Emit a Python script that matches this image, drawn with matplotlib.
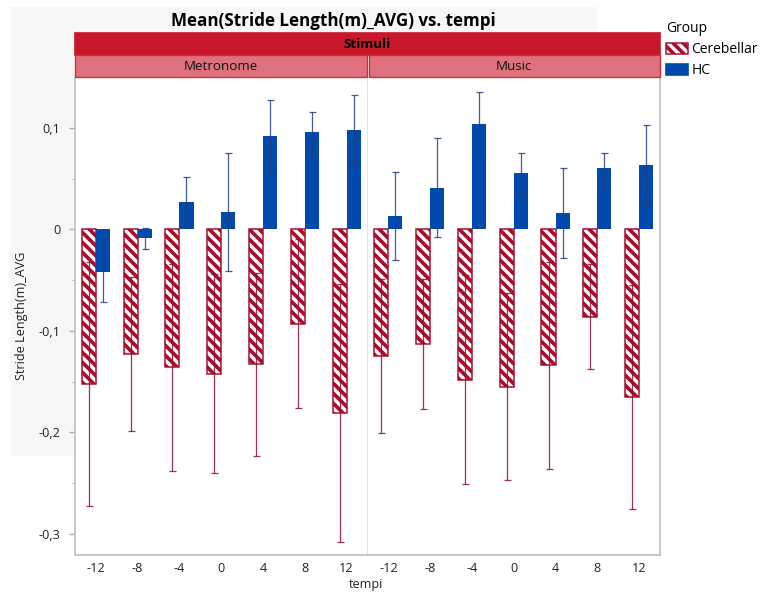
import numpy as np
import matplotlib
matplotlib.use("Agg")
import matplotlib.pyplot as plt
from matplotlib.patches import Rectangle, Patch

plt.rcParams['font.family'] = ['Open Sans', 'DejaVu Sans']
plt.rcParams['hatch.linewidth'] = 2.2

# mean stride length and error per tempo, split by stimulus and group
tempi = [-12, -8, -4, 0, 4, 8, 12]
metro_cereb = [-0.152, -0.123, -0.136, -0.142, -0.133, -0.093, -0.181]
metro_cereb_err = [0.120, 0.076, 0.102, 0.098, 0.090, 0.083, 0.127]
metro_hc = [-0.042, -0.009, 0.027, 0.017, 0.092, 0.096, 0.098]
metro_hc_err = [0.030, 0.010, 0.025, 0.058, 0.035, 0.020, 0.034]
music_cereb = [-0.125, -0.113, -0.148, -0.155, -0.134, -0.086, -0.165]
music_cereb_err = [0.076, 0.064, 0.103, 0.092, 0.102, 0.052, 0.110]
music_hc = [0.013, 0.041, 0.104, 0.055, 0.016, 0.060, 0.063]
music_hc_err = [0.043, 0.049, 0.031, 0.020, 0.044, 0.015, 0.040]

yticks = [-0.3, -0.2, -0.1, 0.0, 0.1]
ytick_labels = ['-0,3', '-0,2', '-0,1', '0', '0,1']

RED = '#a50e2d'
BLUE = '#004aad'
RED_ERR = '#8c1030'
BLUE_ERR = '#1f3f80'
FRAME = '#c4c4c4'
HATCH = '\\\\\\\\'

W, H = 765, 592
fig = plt.figure(figsize=(W / 120, H / 120), dpi=120)
fig.patch.set_facecolor('white')


def fx(px):
    return px / W


def fy(py):
    return 1 - py / H


# light gray backdrop behind the title and the y axis
fig.add_artist(Rectangle((fx(10), fy(456)), fx(597) - fx(10), fy(7) - fy(456),
                         transform=fig.transFigure, facecolor='#f7f7f7',
                         edgecolor='none', zorder=0))

left, right, top, bottom = 75, 660, 78, 555
mid = (left + right) / 2
ax1 = fig.add_axes([fx(left), fy(bottom), fx(mid) - fx(left), fy(top) - fy(bottom)])
ax2 = fig.add_axes([fx(mid), fy(bottom), fx(right) - fx(mid), fy(top) - fy(bottom)],
                   sharey=ax1)

x = np.arange(len(tempi))
bw = 0.336
panels = [(ax1, metro_cereb, metro_cereb_err, metro_hc, metro_hc_err),
          (ax2, music_cereb, music_cereb_err, music_hc, music_hc_err)]

for ax, cm, ce, hm, he in panels:
    ax.set_facecolor('white')
    ax.bar(x - bw / 2, cm, bw, facecolor='white', edgecolor=RED,
           hatch=HATCH, linewidth=0.9, zorder=2)
    ax.bar(x + bw / 2, hm, bw, color=BLUE, linewidth=0, zorder=2)
    ax.errorbar(x - bw / 2, cm, yerr=ce, fmt='none', ecolor=RED_ERR,
                elinewidth=0.75, capsize=2.1, capthick=0.75, alpha=0.85, zorder=3)
    ax.errorbar(x + bw / 2, hm, yerr=he, fmt='none', ecolor=BLUE_ERR,
                elinewidth=0.75, capsize=2.1, capthick=0.75, alpha=0.85, zorder=3)
    ax.set_xlim(-0.5, len(tempi) - 0.5)
    ax.set_xticks(x)
    ax.set_xticklabels([str(t) for t in tempi], fontsize=7.6, color='#222222')
    ax.tick_params(axis='x', length=0, pad=4)
    ax.spines['top'].set_visible(False)
    for s in ['left', 'right', 'bottom']:
        ax.spines[s].set_color(FRAME)
        ax.spines[s].set_linewidth(1.1)

ax1.set_ylim(-0.3207, 0.149)
ax1.set_yticks(yticks)
ax1.set_yticklabels(ytick_labels, fontsize=7.6, color='#222222')
ax1.set_yticks(np.arange(-0.25, 0.15, 0.1), minor=True)
ax1.tick_params(axis='y', which='major', length=3.8, color='#aaaaaa', pad=5)
ax1.tick_params(axis='y', which='minor', length=2, color='#aaaaaa')
ax1.spines['right'].set_color('#e2e2e2')
ax2.spines['left'].set_visible(False)
ax2.tick_params(axis='y', which='both', left=False, labelleft=False)

# facet headers
fig.add_artist(Rectangle((fx(left), fy(55)), fx(right) - fx(left), fy(33) - fy(55),
                         transform=fig.transFigure, facecolor='#c8162b',
                         edgecolor='#c8162b', zorder=1))
fig.text(fx(mid), fy(44), 'Stimuli', ha='center', va='center',
         fontsize=8, fontweight='bold', color='black')
for x0, x1, name in [(left, mid - 1, 'Metronome'), (mid + 1, right, 'Music')]:
    fig.add_artist(Rectangle((fx(x0), fy(77)), fx(x1) - fx(x0), fy(55) - fy(77),
                             transform=fig.transFigure, facecolor='#df717e',
                             edgecolor='#d42a3a', linewidth=0.8, zorder=1))
    fig.text(fx((x0 + x1) / 2), fy(66), name, ha='center', va='center',
             fontsize=8, color='#111111')

fig.text(fx(333), fy(21), 'Mean(Stride Length(m)_AVG) vs. tempi', ha='center',
         va='center', fontsize=10.2, fontweight='bold', color='black')
fig.text(fx(22), fy(316), 'Stride Length(m)_AVG', rotation=90, ha='center',
         va='center', fontsize=7.6, color='#222222')
fig.text(fx(366), fy(578), 'tempi', ha='center', va='top', fontsize=7.6,
         color='#222222')

handles = [Patch(facecolor='white', edgecolor=RED, hatch=HATCH, linewidth=0.9),
           Patch(facecolor=BLUE, edgecolor=BLUE)]
fig.legend(handles, ['Cerebellar', 'HC'], title='Group', loc='upper left',
           bbox_to_anchor=(fx(666), fy(21)), frameon=False, fontsize=8.3,
           title_fontsize=8.3, alignment='left', handlelength=1.6,
           handleheight=0.85, handletextpad=0.25, labelspacing=0.45,
           borderpad=0, borderaxespad=0)

fig.savefig('out.png', dpi=120)
